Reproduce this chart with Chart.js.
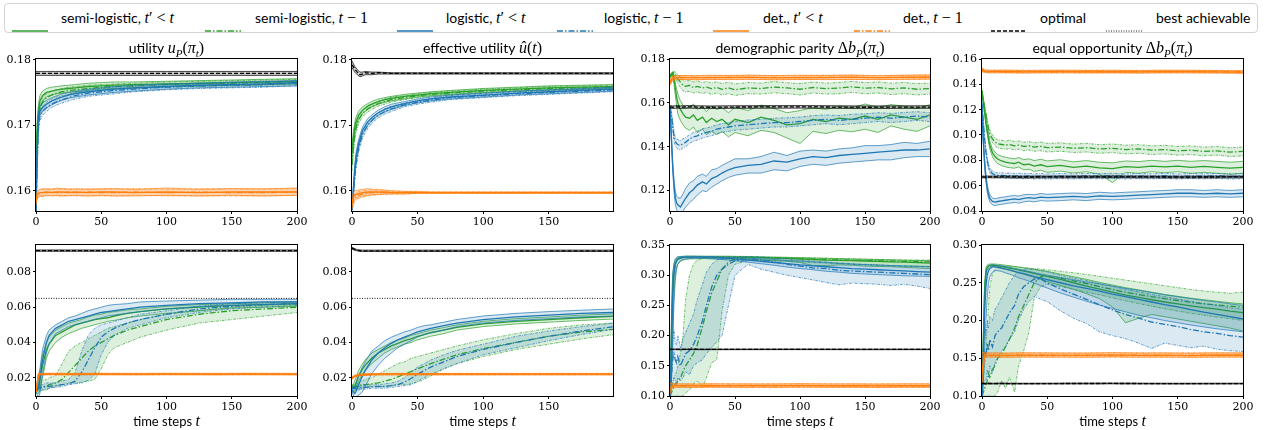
<!DOCTYPE html>
<html><head><meta charset="utf-8">
<script src="https://cdn.jsdelivr.net/npm/chart.js@4.4.0/dist/chart.umd.min.js"></script>
<style>
body{margin:0;width:1266px;height:430px;background:#fff;position:relative;overflow:hidden;font-family:Lato,"DejaVu Sans",sans-serif}
#legend{position:absolute;left:4px;top:3px;width:1254px;height:30px;border:1px solid #d3d3d3;border-radius:4px;box-sizing:border-box}
.item{position:absolute;top:0;height:28px;line-height:28px;font-size:14px;white-space:nowrap;color:#000}
.sw{position:absolute;top:13px}
.m{font-family:"Liberation Serif",serif;font-style:italic;font-size:16px}
.r{font-family:"Liberation Serif",serif;font-size:16px}
canvas{position:absolute}
</style></head><body>
<div id="legend"></div>
<script>
// time grids
const T_SMOOTH = [0,1,2,3,5,8,12,16,20,25,30,40,50,60,75,100,125,150,175,200];
const T_RISE = [0,1,2,3,5,8,10,15,20,25,30,35,40,45,50,55,60,70,80,100,125,150,175,200];
const T_NOISY = [0,1,2,3,4,5,6,8,10,12,15,18,21,25,28,32,36,40,45,50,60,70,80,90,100,110,120,130,140,150,160,170,180,190,200];
const T_FLAT = [0,2,5,10,20,30,45,60,80,100,120,140,160,180,200];
const T_OPT = [0,2,4,6,8,10,15,20,30,50,100,150,200];
const T_BEST = [0,200];

// ticks
const X_TICKS_200 = [0,50,100,150,200];
const X_TICKS_199 = [0,50,100,150];
const Y_TICKS_UTIL = [0.16,0.17,0.18];
const Y_TICKS_DP1 = [0.12,0.14,0.16,0.18];
const Y_TICKS_EO1 = [0.04,0.06,0.08,0.10,0.12,0.14,0.16];
const Y_TICKS_U2 = [0.02,0.04,0.06,0.08];
const Y_TICKS_DP2 = [0.10,0.15,0.20,0.25,0.30,0.35];
const Y_TICKS_EO2 = [0.10,0.15,0.20,0.25,0.30];

// ---- utility u_P (row 1, col 1)
const UTIL_SC_MID = [.1630,.1700,.1725,.1737,.1745,.1750,.1752,.1754,.1755,.1756,.1757,.1759,.1760,.1761,.1762,.1763,.1764,.1765,.1766,.1767];
const UTIL_SC_LO = [.1620,.1690,.1717,.1728,.1737,.1743,.1746,.1748,.1749,.1750,.1751,.1753,.1755,.1756,.1757,.1759,.1760,.1761,.1762,.1763];
const UTIL_SC_HI = [.1640,.1710,.1733,.1745,.1752,.1756,.1758,.1759,.1760,.1761,.1762,.1764,.1765,.1766,.1766,.1767,.1768,.1769,.1770,.1771];
const UTIL_SP_MID = [.1625,.1685,.1712,.1725,.1735,.1742,.1746,.1749,.1751,.1753,.1754,.1756,.1758,.1759,.1760,.1762,.1763,.1764,.1765,.1766];
const UTIL_SP_LO = [.1615,.1675,.1703,.1716,.1727,.1735,.1740,.1743,.1745,.1747,.1749,.1751,.1753,.1755,.1756,.1758,.1759,.1760,.1761,.1762];
const UTIL_SP_HI = [.1635,.1695,.1720,.1733,.1742,.1748,.1752,.1754,.1756,.1758,.1759,.1761,.1762,.1763,.1764,.1766,.1767,.1768,.1769,.1770];
const UTIL_LC_MID = [.1570,.1670,.1715,.1722,.1727,.1732,.1737,.1740,.1743,.1746,.1748,.1751,.1753,.1755,.1757,.1759,.1761,.1762,.1763,.1765];
const UTIL_LC_LO = [.1565,.1660,.1708,.1715,.1721,.1726,.1731,.1735,.1738,.1741,.1743,.1746,.1748,.1750,.1752,.1755,.1757,.1758,.1759,.1760];
const UTIL_LC_HI = [.1580,.1680,.1722,.1729,.1734,.1738,.1742,.1745,.1748,.1750,.1752,.1755,.1757,.1759,.1761,.1763,.1764,.1766,.1767,.1768];
const UTIL_LP_MID = [.1565,.1650,.1700,.1714,.1721,.1727,.1732,.1736,.1739,.1742,.1745,.1749,.1751,.1753,.1755,.1758,.1760,.1761,.1762,.1764];
const UTIL_LP_LO = [.1560,.1640,.1692,.1707,.1715,.1721,.1727,.1731,.1734,.1737,.1740,.1744,.1746,.1748,.1751,.1754,.1756,.1757,.1758,.1760];
const UTIL_LP_HI = [.1575,.1660,.1708,.1721,.1728,.1733,.1737,.1741,.1744,.1747,.1750,.1754,.1756,.1758,.1759,.1762,.1764,.1765,.1766,.1768];
const UTIL_DC_MID = [.1585,.1594,.1596,.1597,.1597,.1598,.1597,.1598,.1598,.1597,.1598,.1597,.1598,.1598,.1597,.1598,.1597,.1598,.1598,.1598];
const UTIL_DC_LO = [.1580,.1589,.1591,.1592,.1592,.1593,.1592,.1593,.1592,.1592,.1593,.1592,.1593,.1592,.1592,.1593,.1592,.1593,.1592,.1593];
const UTIL_DC_HI = [.1590,.1599,.1601,.1602,.1603,.1603,.1602,.1604,.1603,.1602,.1603,.1602,.1603,.1603,.1602,.1604,.1602,.1603,.1603,.1604];
const UTIL_DP_MID = [.1583,.1593,.1595,.1596,.1597,.1597,.1598,.1597,.1597,.1598,.1597,.1598,.1597,.1597,.1598,.1597,.1598,.1597,.1597,.1598];
const UTIL_DP_LO = [.1578,.1588,.1590,.1591,.1591,.1592,.1593,.1592,.1592,.1593,.1592,.1592,.1592,.1592,.1593,.1592,.1592,.1592,.1592,.1593];
const UTIL_DP_HI = [.1588,.1598,.1600,.1601,.1602,.1602,.1603,.1602,.1603,.1603,.1602,.1603,.1602,.1603,.1603,.1602,.1603,.1603,.1602,.1603];
const UTIL_OPT_MID = [.1779,.1779,.1779,.1779,.1779,.1779,.1779,.1779,.1779,.1779,.1779,.1779,.1779];
const UTIL_OPT_LO = [.1776,.1776,.1776,.1776,.1776,.1776,.1776,.1776,.1776,.1776,.1776,.1776,.1776];
const UTIL_OPT_HI = [.1782,.1782,.1782,.1782,.1782,.1782,.1782,.1782,.1782,.1782,.1782,.1782,.1782];

// ---- effective utility (row 1, col 2)
const EFF_SC_MID = [.1660,.1680,.1695,.1705,.1715,.1723,.1729,.1733,.1736,.1739,.1741,.1744,.1746,.1748,.1750,.1753,.1755,.1757,.1758,.1759];
const EFF_SC_LO = [.1650,.1671,.1687,.1698,.1709,.1718,.1724,.1729,.1732,.1735,.1737,.1740,.1743,.1745,.1747,.1750,.1752,.1754,.1755,.1756];
const EFF_SC_HI = [.1670,.1689,.1703,.1712,.1721,.1728,.1733,.1737,.1740,.1742,.1744,.1747,.1749,.1751,.1753,.1756,.1758,.1760,.1761,.1762];
const EFF_SP_MID = [.1640,.1665,.1683,.1695,.1708,.1718,.1725,.1729,.1733,.1736,.1739,.1742,.1745,.1747,.1749,.1752,.1754,.1756,.1757,.1758];
const EFF_SP_LO = [.1630,.1656,.1675,.1688,.1702,.1713,.1720,.1725,.1729,.1732,.1735,.1739,.1742,.1744,.1746,.1749,.1751,.1753,.1754,.1755];
const EFF_SP_HI = [.1650,.1674,.1691,.1702,.1714,.1723,.1730,.1733,.1737,.1740,.1743,.1745,.1748,.1750,.1752,.1755,.1757,.1759,.1760,.1761];
const EFF_LC_MID = [.1575,.1600,.1630,.1650,.1672,.1692,.1705,.1713,.1719,.1724,.1728,.1733,.1737,.1740,.1743,.1746,.1749,.1751,.1753,.1755];
const EFF_LC_LO = [.1570,.1594,.1623,.1643,.1666,.1687,.1700,.1709,.1715,.1720,.1724,.1730,.1734,.1737,.1740,.1743,.1746,.1748,.1750,.1752];
const EFF_LC_HI = [.1580,.1606,.1637,.1657,.1678,.1697,.1710,.1717,.1723,.1728,.1732,.1736,.1740,.1743,.1746,.1749,.1752,.1754,.1756,.1758];
const EFF_LP_MID = [.1570,.1590,.1620,.1640,.1665,.1686,.1700,.1709,.1715,.1721,.1725,.1731,.1735,.1738,.1742,.1745,.1748,.1750,.1752,.1754];
const EFF_LP_LO = [.1565,.1584,.1613,.1633,.1659,.1681,.1695,.1705,.1711,.1717,.1721,.1728,.1732,.1735,.1739,.1742,.1745,.1747,.1749,.1751];
const EFF_LP_HI = [.1575,.1596,.1627,.1647,.1671,.1691,.1705,.1713,.1719,.1725,.1729,.1734,.1738,.1741,.1745,.1748,.1751,.1753,.1755,.1757];
const EFF_DC_MID = [.1582,.1590,.1593,.1594,.1596,.1597,.1598,.1598,.1598,.1598,.1597,.1597,.1597,.1597,.1597,.1597,.1597,.1597,.1597,.1597];
const EFF_DC_LO = [.1575,.1583,.1586,.1588,.1590,.1592,.1593,.1594,.1594,.1595,.1595,.1595,.1596,.1596,.1596,.1596,.1596,.1596,.1596,.1596];
const EFF_DC_HI = [.1590,.1597,.1599,.1600,.1601,.1602,.1603,.1602,.1602,.1601,.1600,.1599,.1599,.1598,.1598,.1598,.1598,.1598,.1598,.1598];
const EFF_DP_MID = [.1578,.1585,.1589,.1591,.1593,.1595,.1596,.1597,.1597,.1597,.1597,.1597,.1597,.1597,.1597,.1597,.1597,.1597,.1597,.1597];
const EFF_DP_LO = [.1572,.1579,.1583,.1585,.1588,.1590,.1592,.1593,.1594,.1594,.1595,.1595,.1596,.1596,.1596,.1596,.1596,.1596,.1596,.1596];
const EFF_DP_HI = [.1585,.1592,.1595,.1597,.1599,.1600,.1601,.1601,.1600,.1600,.1599,.1599,.1598,.1598,.1598,.1598,.1598,.1598,.1598,.1598];
const EFF_OPT_MID = [.1792,.1786,.1781,.1777,.1778,.1780,.1779,.1780,.1779,.1779,.1779,.1779,.1779];
const EFF_OPT_LO = [.1788,.1781,.1777,.1774,.1775,.1777,.1777,.1778,.1778,.1778,.1778,.1778,.1778];
const EFF_OPT_HI = [.1798,.1790,.1785,.1781,.1781,.1782,.1781,.1781,.1780,.1780,.1780,.1780,.1780];

// ---- demographic parity (row 1, col 3)
const DP1_SC_MID = [.172,.1728,.1735,.171,.167,.163,.160,.157,.155,.1535,.153,.1545,.152,.1535,.151,.153,.1515,.1525,.150,.1525,.151,.1535,.152,.150,.1505,.1525,.1515,.153,.1525,.154,.1525,.1545,.1535,.1525,.1545];
const DP1_SC_HI = [.1725,.1735,.1742,.1725,.1695,.1665,.164,.161,.159,.1575,.158,.1595,.157,.1585,.156,.1585,.157,.1578,.1555,.158,.1565,.159,.1575,.1555,.1565,.1578,.157,.1585,.1578,.1595,.158,.1592,.1585,.1575,.1592];
const DP1_SC_LO = [.1715,.172,.1725,.169,.164,.159,.155,.152,.150,.1485,.1475,.149,.1465,.148,.1455,.147,.1455,.147,.1445,.1465,.145,.1475,.1465,.144,.1415,.147,.146,.1475,.1468,.148,.1465,.1495,.148,.147,.1495];
const DP1_SP_MID = [.172,.1728,.1735,.1738,.173,.172,.171,.1695,.168,.1675,.168,.167,.1675,.1668,.1672,.1665,.167,.1662,.1668,.166,.1668,.1665,.1672,.1668,.1662,.167,.1665,.1668,.1673,.1667,.167,.1664,.1668,.1662,.1665];
const DP1_SP_HI = [.1725,.1735,.1742,.1745,.174,.1735,.1728,.1715,.1705,.170,.1702,.1695,.170,.1692,.1698,.169,.1696,.1688,.1694,.1686,.1693,.169,.1697,.1692,.1688,.1695,.169,.1693,.1698,.1692,.1695,.169,.1693,.1688,.169];
const DP1_SP_LO = [.1715,.172,.1728,.173,.172,.1705,.169,.167,.1655,.165,.1652,.1645,.165,.1642,.1648,.1638,.1645,.1636,.1642,.1634,.1642,.164,.1646,.1642,.1636,.1645,.164,.1642,.1648,.1641,.1645,.1638,.1642,.1636,.164];
const DP1_LC_MID = [.158,.145,.132,.123,.117,.1145,.1135,.1125,.1145,.1165,.119,.1205,.1225,.124,.123,.1255,.1265,.128,.1295,.1305,.1315,.132,.1335,.133,.1345,.1355,.135,.136,.1365,.137,.1375,.138,.1385,.1385,.139];
const DP1_LC_HI = [.158,.1465,.134,.1255,.120,.1175,.1168,.1165,.1185,.121,.1235,.1245,.1265,.1275,.1265,.1295,.130,.1315,.133,.1345,.1345,.1355,.1375,.136,.138,.1385,.138,.139,.1395,.1405,.1405,.141,.142,.1415,.1425];
const DP1_LC_LO = [.157,.143,.130,.1205,.114,.1115,.110,.109,.1105,.1125,.1145,.116,.118,.120,.1195,.1215,.123,.1245,.126,.127,.128,.128,.1295,.129,.131,.132,.1315,.1325,.133,.1335,.134,.134,.135,.1355,.1355];
const DP1_LP_MID = [.158,.155,.150,.145,.1425,.1415,.141,.1405,.1415,.142,.1435,.1445,.145,.146,.1465,.147,.148,.1485,.149,.1495,.150,.1505,.151,.151,.1515,.152,.1525,.152,.1525,.153,.1535,.153,.1535,.154,.1535];
const DP1_LP_HI = [.1585,.1565,.152,.147,.1445,.1435,.1432,.1428,.1436,.1442,.1455,.1465,.147,.1482,.1485,.1492,.150,.1505,.151,.1515,.1522,.1525,.153,.1532,.1535,.1542,.1545,.1542,.1548,.155,.1555,.1552,.1556,.156,.1555];
const DP1_LP_LO = [.1575,.1535,.148,.143,.1405,.1395,.139,.1385,.1395,.140,.1415,.1425,.143,.144,.1445,.145,.146,.1465,.147,.1475,.148,.1485,.149,.149,.1495,.150,.1505,.150,.1505,.151,.1515,.151,.1515,.152,.1515];
const DP1_DC_MID = [.169,.1712,.1715,.1716,.1714,.1716,.1715,.1717,.1714,.1716,.1715,.1717,.1715,.1716,.1718];
const DP1_DC_LO = [.168,.1703,.1706,.1707,.1705,.1707,.1706,.1708,.1705,.1707,.1706,.1707,.1706,.1707,.1709];
const DP1_DC_HI = [.170,.1722,.1724,.1725,.1723,.1726,.1724,.1727,.1724,.1726,.1725,.1727,.1724,.1726,.1728];
const DP1_DP_MID = [.1695,.1714,.1716,.1715,.1716,.1715,.1717,.1715,.1716,.1715,.1717,.1716,.1715,.1717,.1716];
const DP1_DP_LO = [.1686,.1705,.1707,.1706,.1707,.1706,.1708,.1706,.1707,.1706,.1708,.1707,.1706,.1708,.1707];
const DP1_DP_HI = [.1704,.1723,.1725,.1724,.1725,.1724,.1726,.1724,.1725,.1724,.1726,.1725,.1724,.1726,.1725];
const DP1_OPT_MID = [.1582,.1580,.1581,.1582,.1580,.1581,.1582,.1581,.1580,.1581,.1582,.1580,.1581];
const DP1_OPT_LO = [.1576,.1574,.1575,.1576,.1574,.1575,.1576,.1575,.1574,.1575,.1576,.1574,.1575];
const DP1_OPT_HI = [.1588,.1586,.1587,.1588,.1586,.1587,.1588,.1587,.1586,.1587,.1588,.1586,.1587];

// ---- equal opportunity (row 1, col 4)
const EO1_SC_MID = [.134,.126,.118,.110,.103,.097,.092,.086,.083,.081,.0795,.0785,.078,.0775,.0785,.0765,.077,.0755,.0765,.075,.076,.0745,.0755,.074,.0735,.075,.0745,.0755,.0748,.0755,.0745,.0752,.0745,.0738,.0745];
const EO1_SC_HI = [.1345,.127,.1195,.112,.105,.0995,.095,.089,.0865,.0845,.0832,.0825,.0818,.0812,.0822,.0805,.0812,.0798,.0808,.0795,.0805,.0788,.0798,.0785,.078,.0795,.079,.080,.0792,.080,.0792,.0798,.0792,.0785,.0792];
const EO1_SC_LO = [.1335,.125,.1165,.108,.101,.0945,.089,.083,.0795,.0775,.0758,.0748,.0742,.0738,.0748,.0725,.073,.0712,.0722,.0705,.0715,.070,.071,.069,.0625,.0705,.0698,.071,.0702,.071,.0698,.0705,.0698,.069,.0698];
const EO1_SP_MID = [.135,.128,.122,.116,.110,.105,.101,.097,.0945,.093,.0925,.092,.0925,.0915,.092,.091,.0915,.0905,.091,.090,.0905,.0895,.090,.089,.0895,.0885,.089,.088,.0885,.0875,.088,.087,.0875,.0865,.087];
const EO1_SP_HI = [.1355,.129,.1235,.118,.1125,.1075,.104,.100,.0975,.0962,.0958,.0952,.0958,.0948,.0953,.0943,.0948,.0938,.0944,.0934,.0938,.0928,.0934,.0924,.0929,.0919,.0924,.0914,.0919,.0909,.0914,.0904,.0909,.0899,.0905];
const EO1_SP_LO = [.1345,.127,.1205,.114,.1075,.1025,.098,.094,.0915,.0898,.0892,.0888,.0892,.0882,.0887,.0877,.0882,.0872,.0876,.0866,.0872,.0862,.0866,.0856,.0861,.0851,.0856,.0846,.0851,.0841,.0846,.0836,.0841,.0831,.0835];
const EO1_LC_MID = [.120,.095,.078,.066,.058,.053,.050,.0475,.047,.0475,.048,.0485,.049,.0495,.049,.050,.0505,.050,.051,.0505,.051,.0515,.051,.052,.0515,.052,.0525,.053,.0535,.054,.054,.0535,.054,.0535,.054];
const EO1_LC_HI = [.121,.097,.081,.069,.061,.056,.0528,.0502,.0497,.0502,.0508,.0512,.0518,.0522,.0518,.0528,.0532,.0528,.0538,.0532,.0538,.0542,.0538,.0548,.0542,.0548,.0552,.0558,.0562,.0568,.0568,.0562,.0568,.0562,.0568];
const EO1_LC_LO = [.119,.093,.075,.063,.055,.050,.0472,.0448,.0443,.0448,.0452,.0458,.0462,.0468,.0462,.0472,.0478,.0472,.0482,.0478,.0482,.0488,.0482,.0492,.0488,.0492,.0498,.0502,.0508,.0512,.0512,.0508,.0512,.0508,.0512];
const EO1_LP_MID = [.125,.110,.097,.087,.080,.075,.072,.0695,.0685,.068,.0682,.0678,.068,.0676,.0679,.0674,.0677,.0673,.0676,.0672,.0676,.0673,.0677,.0674,.0678,.0673,.0676,.0674,.0677,.0673,.0676,.0674,.0677,.0673,.0675];
const EO1_LP_HI = [.126,.112,.099,.089,.082,.077,.074,.0715,.0705,.070,.0702,.0698,.070,.0696,.0699,.0694,.0697,.0693,.0696,.0692,.0696,.0693,.0697,.0694,.0698,.0693,.0696,.0694,.0697,.0693,.0696,.0694,.0697,.0693,.0695];
const EO1_LP_LO = [.124,.108,.095,.085,.078,.073,.070,.0675,.0665,.066,.0662,.0658,.066,.0656,.0659,.0654,.0657,.0653,.0656,.0652,.0656,.0653,.0657,.0654,.0658,.0653,.0656,.0654,.0657,.0653,.0656,.0654,.0657,.0653,.0655];
const EO1_DC_MID = [.152,.1505,.1502,.150,.1503,.1498,.1501,.1502,.1499,.1501,.1498,.1502,.150,.1499,.1497];
const EO1_DC_LO = [.151,.1495,.1492,.149,.1493,.1488,.1491,.1492,.1489,.1491,.1488,.1492,.149,.1489,.1487];
const EO1_DC_HI = [.153,.1515,.1512,.151,.1513,.1508,.1511,.1512,.1509,.1511,.1508,.1512,.151,.1509,.1507];
const EO1_DP_MID = [.151,.1502,.150,.1503,.1499,.1502,.150,.1499,.1502,.150,.1501,.1499,.1501,.150,.1499];
const EO1_DP_LO = [.150,.1492,.149,.1493,.1489,.1492,.149,.1489,.1492,.149,.1491,.1489,.1491,.149,.1489];
const EO1_DP_HI = [.152,.1512,.151,.1513,.1509,.1512,.151,.1509,.1512,.151,.1511,.1509,.1511,.151,.1509];
const EO1_OPT_MID = [.0670,.0668,.0669,.0670,.0668,.0669,.0670,.0669,.0668,.0669,.0670,.0668,.0669];
const EO1_OPT_LO = [.0663,.0661,.0662,.0663,.0661,.0662,.0663,.0662,.0661,.0662,.0663,.0661,.0662];
const EO1_OPT_HI = [.0677,.0675,.0676,.0677,.0675,.0676,.0677,.0676,.0675,.0676,.0677,.0675,.0676];

// ---- utility (row 2, col 1)
const U2_SC_MID = [.013,.013,.014,.018,.027,.036,.039,.044,.046,.048,.050,.051,.052,.053,.0535,.054,.055,.0565,.0575,.059,.060,.061,.0615,.062];
const U2_SC_HI = [.014,.015,.018,.023,.033,.040,.043,.047,.049,.051,.052,.053,.0545,.0555,.056,.057,.0575,.0585,.059,.0605,.0615,.062,.0625,.063];
const U2_SC_LO = [.012,.011,.011,.013,.020,.031,.035,.040,.043,.045,.0465,.048,.049,.050,.051,.052,.0525,.054,.055,.0565,.058,.0595,.060,.0605];
const U2_SP_MID = [.014,.014,.014,.0145,.015,.015,.016,.017,.019,.023,.027,.031,.035,.038,.040,.042,.044,.047,.049,.053,.056,.058,.059,.060];
const U2_SP_HI = [.015,.015,.016,.017,.018,.019,.020,.021,.028,.035,.038,.040,.042,.044,.046,.048,.049,.051,.053,.056,.058,.060,.061,.0615];
const U2_SP_LO = [.013,.012,.012,.012,.013,.013,.014,.015,.016,.017,.017,.0175,.018,.019,.025,.033,.037,.040,.043,.047,.051,.053,.055,.057];
const U2_LC_MID = [.013,.013,.015,.019,.030,.040,.044,.048,.050,.052,.053,.054,.055,.056,.057,.0575,.058,.059,.060,.061,.062,.0625,.063,.063];
const U2_LC_HI = [.014,.015,.020,.025,.036,.044,.047,.050,.052,.054,.055,.0565,.058,.059,.060,.061,.0615,.062,.063,.0635,.064,.0645,.0645,.0645];
const U2_LC_LO = [.012,.010,.009,.011,.022,.034,.039,.045,.047,.049,.050,.051,.052,.053,.054,.055,.0555,.0565,.0575,.059,.0605,.061,.0615,.062];
const U2_LP_MID = [.014,.014,.014,.014,.0145,.015,.015,.0155,.016,.0165,.018,.023,.030,.037,.043,.046,.048,.051,.053,.056,.059,.0605,.0615,.062];
const U2_LP_HI = [.015,.015,.015,.016,.016,.017,.017,.017,.018,.019,.023,.035,.044,.048,.050,.051,.052,.054,.056,.058,.0605,.062,.0625,.063];
const U2_LP_LO = [.013,.013,.013,.013,.013,.0135,.014,.0145,.015,.016,.0165,.017,.0185,.022,.033,.040,.044,.048,.050,.054,.057,.059,.060,.061];
const U2_DC_MID = [.013,.0220,.0220,.0221,.0220,.0220,.0221,.0220,.0220,.0221,.0220,.0220,.0221,.0220,.0220];
const U2_DC_LO = [.012,.0216,.0216,.0217,.0216,.0216,.0217,.0216,.0216,.0217,.0216,.0216,.0217,.0216,.0216];
const U2_DC_HI = [.014,.0224,.0224,.0225,.0224,.0224,.0225,.0224,.0224,.0225,.0224,.0224,.0225,.0224,.0224];
const U2_DP_MID = [.012,.0221,.0220,.0220,.0221,.0220,.0220,.0221,.0220,.0220,.0221,.0220,.0220,.0221,.0220];
const U2_DP_LO = [.0116,.0217,.0216,.0216,.0217,.0216,.0216,.0217,.0216,.0216,.0217,.0216,.0216,.0217,.0216];
const U2_DP_HI = [.0124,.0225,.0224,.0224,.0225,.0224,.0224,.0225,.0224,.0224,.0225,.0224,.0224,.0225,.0224];
const U2_OPT_MID = [.0921,.0921,.0921,.0921,.0921,.0921,.0921,.0921,.0921,.0921,.0921,.0921,.0921];
const U2_OPT_LO = [.0917,.0917,.0917,.0917,.0917,.0917,.0917,.0917,.0917,.0917,.0917,.0917,.0917];
const U2_OPT_HI = [.0925,.0925,.0925,.0925,.0925,.0925,.0925,.0925,.0925,.0925,.0925,.0925,.0925];
const U2_BEST = [.065,.065];

// ---- effective utility (row 2, col 2)
const E2_SC_MID = [.014,.014,.015,.017,.021,.025,.027,.031,.034,.036,.038,.0395,.041,.042,.0435,.0445,.0455,.047,.0485,.0505,.052,.053,.054,.0548];
const E2_SC_HI = [.015,.016,.018,.020,.024,.028,.030,.034,.036,.038,.040,.0415,.0425,.044,.045,.046,.047,.0485,.050,.052,.0535,.0545,.0555,.0562];
const E2_SC_LO = [.013,.012,.012,.014,.018,.022,.024,.028,.031,.034,.036,.0375,.039,.040,.0415,.0425,.0435,.045,.047,.049,.0505,.0515,.0525,.0533];
const E2_SP_MID = [.015,.015,.015,.015,.0155,.016,.016,.0165,.017,.018,.019,.0205,.022,.0235,.025,.0265,.028,.0305,.033,.0365,.040,.0435,.046,.0475];
const E2_SP_HI = [.016,.016,.016,.0165,.017,.018,.019,.020,.022,.024,.026,.028,.029,.031,.032,.033,.034,.036,.038,.0415,.045,.048,.050,.051];
const E2_SP_LO = [.014,.014,.014,.014,.014,.014,.0145,.015,.015,.015,.0155,.016,.016,.0165,.0175,.019,.021,.025,.028,.032,.036,.039,.042,.0445];
const E2_LC_MID = [.013,.012,.011,.012,.016,.021,.024,.030,.034,.037,.0395,.0415,.043,.0445,.046,.047,.048,.0495,.051,.053,.0545,.0555,.0565,.057];
const E2_LC_HI = [.014,.014,.014,.016,.021,.026,.029,.035,.038,.041,.043,.0445,.046,.047,.0485,.0495,.050,.0515,.053,.055,.0565,.0575,.0583,.059];
const E2_LC_LO = [.012,.010,.009,.009,.010,.012,.015,.022,.027,.031,.034,.037,.039,.041,.043,.0445,.0455,.047,.049,.051,.0525,.0535,.0545,.055];
const E2_LP_MID = [.014,.014,.014,.014,.014,.0145,.0145,.0148,.015,.015,.0155,.016,.0175,.0195,.022,.024,.026,.029,.032,.036,.040,.0435,.0465,.049];
const E2_LP_HI = [.015,.015,.015,.015,.015,.0155,.0155,.016,.016,.0165,.017,.018,.020,.023,.026,.028,.030,.033,.0355,.039,.0435,.0465,.049,.051];
const E2_LP_LO = [.013,.013,.013,.013,.013,.0135,.0135,.014,.014,.014,.0145,.015,.0155,.016,.018,.020,.022,.025,.028,.033,.037,.041,.0445,.0475];
const E2_DC_MID = [.0200,.0210,.0215,.0218,.0220,.0220,.0220,.0220,.0220,.0220,.0220,.0220,.0220,.0220,.0220];
const E2_DC_LO = [.0196,.0206,.0211,.0214,.0216,.0216,.0216,.0216,.0216,.0216,.0216,.0216,.0216,.0216,.0216];
const E2_DC_HI = [.0204,.0214,.0219,.0222,.0224,.0224,.0224,.0224,.0224,.0224,.0224,.0224,.0224,.0224,.0224];
const E2_DP_MID = [.0195,.0207,.0213,.0217,.0219,.0220,.0220,.0220,.0220,.0220,.0220,.0220,.0220,.0220,.0220];
const E2_DP_LO = [.0191,.0203,.0209,.0213,.0215,.0216,.0216,.0216,.0216,.0216,.0216,.0216,.0216,.0216,.0216];
const E2_DP_HI = [.0199,.0211,.0217,.0221,.0223,.0224,.0224,.0224,.0224,.0224,.0224,.0224,.0224,.0224,.0224];
const E2_OPT_MID = [.0935,.0928,.0923,.0921,.0920,.0920,.0920,.0920,.0920,.0920,.0920,.0920,.0920];
const E2_OPT_LO = [.0930,.0923,.0919,.0917,.0916,.0916,.0916,.0916,.0916,.0916,.0916,.0916,.0916];
const E2_OPT_HI = [.0940,.0933,.0927,.0925,.0924,.0924,.0924,.0924,.0924,.0924,.0924,.0924,.0924];
const E2_BEST = [.065,.065];

// ---- demographic parity (row 2, col 3)
const DP2_SC_MID = [.10,.18,.27,.305,.318,.323,.326,.328,.329,.3295,.33,.33,.33,.33,.33,.33,.33,.33,.33,.33,.3295,.329,.3285,.328,.327,.326,.325,.3245,.324,.3235,.323,.322,.3215,.321,.320];
const DP2_SC_HI = [.10,.22,.30,.318,.326,.329,.330,.331,.331,.3315,.3315,.3315,.3315,.3315,.3315,.3315,.3315,.3315,.3315,.3312,.331,.3305,.330,.3295,.329,.3285,.328,.3275,.327,.3265,.326,.3255,.325,.3245,.324];
const DP2_SC_LO = [.10,.12,.20,.27,.30,.312,.318,.323,.325,.326,.327,.327,.327,.3275,.3275,.3275,.3275,.327,.327,.3265,.326,.325,.324,.323,.321,.316,.316,.317,.3165,.315,.3145,.314,.313,.312,.311];
const DP2_SP_MID = [.10,.105,.11,.115,.12,.12,.125,.13,.14,.15,.16,.17,.185,.215,.24,.27,.29,.31,.322,.327,.329,.329,.3285,.328,.327,.3265,.326,.3255,.325,.3245,.324,.3235,.323,.3225,.322];
const DP2_SP_HI = [.10,.11,.12,.13,.135,.14,.15,.17,.20,.26,.30,.318,.325,.328,.33,.3305,.331,.331,.331,.3305,.3305,.33,.3295,.3295,.329,.3285,.328,.3275,.327,.3265,.326,.3255,.325,.325,.325];
const DP2_SP_LO = [.10,.10,.10,.10,.10,.10,.10,.10,.10,.105,.11,.12,.125,.115,.13,.155,.16,.24,.30,.318,.324,.325,.324,.3235,.322,.321,.32,.319,.318,.317,.316,.3155,.315,.3145,.314];
const DP2_LC_MID = [.10,.16,.26,.30,.318,.324,.327,.329,.3295,.33,.33,.33,.33,.33,.33,.3295,.329,.3285,.328,.327,.325,.323,.321,.319,.317,.3155,.314,.3125,.311,.310,.309,.308,.307,.306,.305];
const DP2_LC_HI = [.10,.21,.30,.318,.326,.329,.3305,.331,.3312,.3315,.3315,.3315,.3313,.3312,.331,.331,.3305,.33,.3298,.3292,.328,.327,.326,.3245,.3235,.322,.321,.3195,.3185,.3175,.317,.316,.3155,.315,.3145];
const DP2_LC_LO = [.10,.11,.18,.25,.29,.31,.318,.324,.326,.327,.3275,.328,.328,.328,.3275,.327,.3265,.326,.325,.324,.3215,.319,.3165,.3135,.311,.309,.3065,.305,.303,.302,.301,.300,.299,.2985,.298];
const DP2_LP_MID = [.10,.13,.16,.17,.16,.155,.165,.15,.16,.17,.175,.185,.20,.225,.25,.28,.30,.31,.318,.324,.326,.325,.322,.318,.315,.312,.311,.308,.307,.306,.305,.304,.303,.302,.301];
const DP2_LP_HI = [.10,.14,.19,.21,.19,.185,.20,.18,.195,.205,.22,.235,.26,.285,.305,.318,.325,.328,.33,.3305,.331,.33,.3285,.327,.325,.3235,.322,.3205,.319,.318,.317,.316,.315,.3145,.314];
const DP2_LP_LO = [.10,.11,.12,.13,.125,.12,.13,.125,.13,.14,.135,.15,.155,.16,.17,.18,.19,.20,.25,.30,.318,.31,.305,.30,.296,.292,.288,.284,.287,.286,.285,.283,.285,.282,.278];
const DP2_DC_MID = [.110,.1175,.1168,.1172,.1166,.1174,.1169,.1171,.1167,.1175,.1168,.1172,.1166,.1173,.1170];
const DP2_DC_LO = [.103,.1150,.1142,.1146,.1140,.1148,.1143,.1145,.1141,.1149,.1142,.1146,.1140,.1147,.1144];
const DP2_DC_HI = [.122,.1205,.1198,.1202,.1196,.1204,.1199,.1201,.1197,.1205,.1198,.1202,.1196,.1203,.1200];
const DP2_DP_MID = [.112,.1170,.1173,.1167,.1172,.1168,.1174,.1167,.1172,.1169,.1173,.1167,.1172,.1168,.1171];
const DP2_DP_LO = [.105,.1144,.1147,.1141,.1146,.1142,.1148,.1141,.1146,.1143,.1147,.1141,.1146,.1142,.1145];
const DP2_DP_HI = [.121,.1200,.1203,.1197,.1202,.1198,.1204,.1197,.1202,.1199,.1203,.1197,.1202,.1198,.1201];
const DP2_OPT_MID = [.1772,.1771,.1773,.1772,.1771,.1772,.1773,.1772,.1771,.1772,.1773,.1771,.1772];
const DP2_OPT_LO = [.1767,.1766,.1768,.1767,.1766,.1767,.1768,.1767,.1766,.1767,.1768,.1766,.1767];
const DP2_OPT_HI = [.1777,.1776,.1778,.1777,.1776,.1777,.1778,.1777,.1776,.1777,.1778,.1776,.1777];

// ---- equal opportunity (row 2, col 4)
const EO2_SC_MID = [.10,.17,.24,.265,.27,.2725,.273,.2735,.273,.2725,.2715,.2705,.2695,.268,.267,.2655,.264,.2625,.2605,.2585,.2545,.25,.2455,.2415,.2375,.2335,.2305,.2275,.2245,.222,.2195,.217,.215,.2125,.2105];
const EO2_SC_HI = [.10,.18,.25,.27,.2735,.2745,.2748,.275,.2748,.2745,.274,.2732,.2725,.2715,.2708,.2698,.2688,.2678,.2665,.265,.2615,.258,.2545,.2505,.247,.2435,.2405,.2375,.2345,.232,.2295,.2275,.2255,.2235,.222];
const EO2_SC_LO = [.10,.16,.23,.26,.2665,.27,.271,.272,.2712,.2705,.2692,.268,.2665,.2645,.2632,.2612,.2592,.2572,.2545,.2518,.2465,.2415,.2355,.229,.218,.197,.203,.208,.205,.202,.199,.196,.193,.19,.186];
const EO2_SP_MID = [.10,.105,.11,.115,.12,.13,.125,.135,.14,.15,.155,.165,.175,.19,.205,.22,.235,.25,.258,.2585,.256,.2525,.249,.245,.241,.2375,.2345,.2315,.229,.2265,.224,.222,.2205,.219,.2175];
const EO2_SP_HI = [.10,.12,.14,.16,.19,.22,.245,.262,.268,.271,.2722,.2722,.272,.2715,.271,.27,.2695,.2688,.268,.267,.2652,.2632,.261,.2585,.256,.2535,.251,.2485,.246,.2435,.241,.239,.2375,.236,.2375];
const EO2_SP_LO = [.10,.10,.10,.10,.10,.10,.10,.10,.10,.105,.12,.11,.125,.105,.14,.16,.185,.23,.245,.248,.245,.241,.2375,.234,.23,.226,.2225,.219,.2155,.2125,.2095,.207,.2045,.2025,.20];
const EO2_LC_MID = [.10,.15,.21,.245,.26,.266,.269,.271,.271,.2705,.2695,.268,.267,.265,.2635,.262,.260,.258,.256,.254,.250,.246,.2425,.239,.235,.2315,.228,.2245,.221,.218,.2145,.211,.208,.205,.202];
const EO2_LC_HI = [.10,.17,.24,.262,.27,.272,.273,.2735,.2735,.273,.2725,.2715,.2705,.269,.268,.2665,.265,.2635,.2615,.26,.257,.254,.251,.2485,.2455,.2425,.24,.237,.234,.2315,.229,.2265,.2245,.222,.22];
const EO2_LC_LO = [.10,.12,.16,.20,.23,.25,.258,.264,.266,.266,.265,.263,.2615,.259,.2565,.2545,.252,.2495,.246,.243,.2365,.231,.2255,.2205,.216,.2115,.207,.2035,.20,.197,.194,.1915,.189,.187,.185];
const EO2_LP_MID = [.10,.13,.16,.15,.17,.16,.175,.165,.18,.185,.19,.20,.21,.22,.235,.245,.25,.255,.255,.25,.242,.235,.228,.221,.214,.208,.203,.198,.195,.192,.188,.185,.183,.18,.178];
const EO2_LP_HI = [.10,.15,.19,.18,.20,.19,.205,.20,.215,.22,.23,.24,.25,.26,.265,.268,.268,.2675,.266,.2645,.26,.2565,.253,.249,.2455,.2415,.238,.2345,.2315,.2285,.2255,.2225,.22,.217,.215];
const EO2_LP_LO = [.10,.11,.12,.12,.135,.125,.14,.13,.145,.15,.16,.165,.175,.185,.20,.215,.225,.232,.228,.225,.213,.203,.196,.185,.18,.176,.17,.163,.17,.167,.164,.166,.162,.16,.159];
const EO2_DC_MID = [.130,.1545,.1538,.1542,.1536,.1544,.1539,.1541,.1537,.1545,.1538,.1542,.1536,.1543,.1540];
const EO2_DC_LO = [.115,.1520,.1513,.1517,.1511,.1519,.1514,.1516,.1512,.1520,.1513,.1517,.1511,.1518,.1515];
const EO2_DC_HI = [.158,.1575,.1568,.1572,.1566,.1574,.1569,.1571,.1567,.1575,.1568,.1572,.1566,.1573,.1570];
const EO2_DP_MID = [.135,.1540,.1543,.1537,.1542,.1538,.1544,.1537,.1542,.1539,.1543,.1537,.1542,.1538,.1541];
const EO2_DP_LO = [.120,.1515,.1518,.1512,.1517,.1513,.1519,.1512,.1517,.1514,.1518,.1512,.1517,.1513,.1516];
const EO2_DP_HI = [.157,.1570,.1573,.1567,.1572,.1568,.1574,.1567,.1572,.1569,.1573,.1567,.1572,.1568,.1571];
const EO2_OPT_MID = [.1166,.1164,.1165,.1166,.1164,.1165,.1166,.1165,.1164,.1165,.1166,.1164,.1165];
const EO2_OPT_LO = [.1161,.1159,.1160,.1161,.1159,.1160,.1161,.1160,.1159,.1160,.1161,.1159,.1160];
const EO2_OPT_HI = [.1171,.1169,.1170,.1171,.1169,.1170,.1171,.1170,.1169,.1170,.1171,.1169,.1170];

// ---------------------------------------------------------------
const GREEN = '#2ca02c', BLUE = '#1f77b4', ORANGE = '#ff7f0e';
const DASHDOT = [6, 2, 1.5, 2];
const EDGE_DD = [2.5, 1.2, 0.8, 1.2];
const SANS = 'Lato, "DejaVu Sans", sans-serif';
const SERIF = '"Liberation Serif", serif';

const STYLE = {
  SC: {color: GREEN, fill: 'rgba(44,160,44,0.16)', dash: [], ed: []},
  SP: {color: GREEN, fill: 'rgba(44,160,44,0.16)', dash: DASHDOT, ed: EDGE_DD},
  LC: {color: BLUE, fill: 'rgba(31,119,180,0.16)', dash: [], ed: []},
  LP: {color: BLUE, fill: 'rgba(31,119,180,0.16)', dash: DASHDOT, ed: EDGE_DD},
  DC: {color: ORANGE, fill: 'rgba(255,127,14,0.18)', dash: [], ed: []},
  DP: {color: ORANGE, fill: 'rgba(255,127,14,0.18)', dash: DASHDOT, ed: EDGE_DD},
  OPT: {color: '#000', fill: 'rgba(0,0,0,0.2)', dash: [4, 2], ed: []},
  BEST: {color: '#000', fill: null, dash: [1, 1.5], ed: []}
};

function grp(k, t, lo, mid, hi) { return {k, t, lo, mid, hi}; }

function titleSegs(words, math) {
  return [{s: words, f: '14px ' + SANS}].concat(math);
}
const MI = s => ({s, f: 'italic 16px ' + SERIF});
const MR = s => ({s, f: '16px ' + SERIF});
const SUB = s => ({s, f: 'italic 11px ' + SERIF, dy: 3.5});
const BP_PI = [MR('Δ'), MI('b'), SUB('P'), MR('('), MI('π'), SUB('t'), MR(')')];

const PANELS = [
  {x0: 36, x1: 297, y0: 59, y1: 211, xMax: 200, yMin: .1569, yMax: .1801, xt: X_TICKS_200, yt: Y_TICKS_UTIL,
   title: titleSegs('utility ', [MI('u'), SUB('P'), MR('('), MI('π'), SUB('t'), MR(')')]),
   groups: [grp('SC', T_SMOOTH, UTIL_SC_LO, UTIL_SC_MID, UTIL_SC_HI), grp('SP', T_SMOOTH, UTIL_SP_LO, UTIL_SP_MID, UTIL_SP_HI),
            grp('LC', T_SMOOTH, UTIL_LC_LO, UTIL_LC_MID, UTIL_LC_HI), grp('LP', T_SMOOTH, UTIL_LP_LO, UTIL_LP_MID, UTIL_LP_HI),
            grp('DC', T_SMOOTH, UTIL_DC_LO, UTIL_DC_MID, UTIL_DC_HI), grp('DP', T_SMOOTH, UTIL_DP_LO, UTIL_DP_MID, UTIL_DP_HI),
            grp('OPT', T_OPT, UTIL_OPT_LO, UTIL_OPT_MID, UTIL_OPT_HI)]},
  {x0: 352, x1: 613, y0: 59, y1: 211, xMax: 199, yMin: .1569, yMax: .1801, xt: X_TICKS_199, yt: Y_TICKS_UTIL,
   title: titleSegs('effective utility ', [MI('û'), MR('('), MI('t'), MR(')')]),
   groups: [grp('SC', T_SMOOTH, EFF_SC_LO, EFF_SC_MID, EFF_SC_HI), grp('SP', T_SMOOTH, EFF_SP_LO, EFF_SP_MID, EFF_SP_HI),
            grp('LC', T_SMOOTH, EFF_LC_LO, EFF_LC_MID, EFF_LC_HI), grp('LP', T_SMOOTH, EFF_LP_LO, EFF_LP_MID, EFF_LP_HI),
            grp('DC', T_SMOOTH, EFF_DC_LO, EFF_DC_MID, EFF_DC_HI), grp('DP', T_SMOOTH, EFF_DP_LO, EFF_DP_MID, EFF_DP_HI),
            grp('OPT', T_OPT, EFF_OPT_LO, EFF_OPT_MID, EFF_OPT_HI)]},
  {x0: 670, x1: 930, y0: 59, y1: 211, xMax: 200, yMin: .1107, yMax: .18, xt: X_TICKS_200, yt: Y_TICKS_DP1,
   title: titleSegs('demographic parity ', BP_PI),
   groups: [grp('SC', T_NOISY, DP1_SC_LO, DP1_SC_MID, DP1_SC_HI), grp('SP', T_NOISY, DP1_SP_LO, DP1_SP_MID, DP1_SP_HI),
            grp('LC', T_NOISY, DP1_LC_LO, DP1_LC_MID, DP1_LC_HI), grp('LP', T_NOISY, DP1_LP_LO, DP1_LP_MID, DP1_LP_HI),
            grp('DC', T_FLAT, DP1_DC_LO, DP1_DC_MID, DP1_DC_HI), grp('DP', T_FLAT, DP1_DP_LO, DP1_DP_MID, DP1_DP_HI),
            grp('OPT', T_OPT, DP1_OPT_LO, DP1_OPT_MID, DP1_OPT_HI)]},
  {x0: 982, x1: 1243, y0: 59, y1: 211, xMax: 200, yMin: .04, yMax: .16, xt: X_TICKS_200, yt: Y_TICKS_EO1,
   title: titleSegs('equal opportunity ', BP_PI),
   groups: [grp('SC', T_NOISY, EO1_SC_LO, EO1_SC_MID, EO1_SC_HI), grp('SP', T_NOISY, EO1_SP_LO, EO1_SP_MID, EO1_SP_HI),
            grp('LC', T_NOISY, EO1_LC_LO, EO1_LC_MID, EO1_LC_HI), grp('LP', T_NOISY, EO1_LP_LO, EO1_LP_MID, EO1_LP_HI),
            grp('DC', T_FLAT, EO1_DC_LO, EO1_DC_MID, EO1_DC_HI), grp('DP', T_FLAT, EO1_DP_LO, EO1_DP_MID, EO1_DP_HI),
            grp('OPT', T_OPT, EO1_OPT_LO, EO1_OPT_MID, EO1_OPT_HI)]},
  {x0: 36, x1: 297, y0: 245, y1: 396, xMax: 200, yMin: .0096, yMax: .0953, xt: X_TICKS_200, yt: Y_TICKS_U2, xlabel: true,
   groups: [grp('SC', T_RISE, U2_SC_LO, U2_SC_MID, U2_SC_HI), grp('SP', T_RISE, U2_SP_LO, U2_SP_MID, U2_SP_HI),
            grp('LC', T_RISE, U2_LC_LO, U2_LC_MID, U2_LC_HI), grp('LP', T_RISE, U2_LP_LO, U2_LP_MID, U2_LP_HI),
            grp('DC', T_FLAT, U2_DC_LO, U2_DC_MID, U2_DC_HI), grp('DP', T_FLAT, U2_DP_LO, U2_DP_MID, U2_DP_HI),
            grp('OPT', T_OPT, U2_OPT_LO, U2_OPT_MID, U2_OPT_HI), grp('BEST', T_BEST, null, U2_BEST, null)]},
  {x0: 352, x1: 613, y0: 245, y1: 396, xMax: 199, yMin: .0096, yMax: .0953, xt: X_TICKS_199, yt: Y_TICKS_U2, xlabel: true,
   groups: [grp('SC', T_RISE, E2_SC_LO, E2_SC_MID, E2_SC_HI), grp('SP', T_RISE, E2_SP_LO, E2_SP_MID, E2_SP_HI),
            grp('LC', T_RISE, E2_LC_LO, E2_LC_MID, E2_LC_HI), grp('LP', T_RISE, E2_LP_LO, E2_LP_MID, E2_LP_HI),
            grp('DC', T_FLAT, E2_DC_LO, E2_DC_MID, E2_DC_HI), grp('DP', T_FLAT, E2_DP_LO, E2_DP_MID, E2_DP_HI),
            grp('OPT', T_OPT, E2_OPT_LO, E2_OPT_MID, E2_OPT_HI), grp('BEST', T_BEST, null, E2_BEST, null)]},
  {x0: 670, x1: 930, y0: 245, y1: 396, xMax: 200, yMin: .10, yMax: .35, xt: X_TICKS_200, yt: Y_TICKS_DP2, xlabel: true,
   groups: [grp('SC', T_NOISY, DP2_SC_LO, DP2_SC_MID, DP2_SC_HI), grp('SP', T_NOISY, DP2_SP_LO, DP2_SP_MID, DP2_SP_HI),
            grp('LC', T_NOISY, DP2_LC_LO, DP2_LC_MID, DP2_LC_HI), grp('LP', T_NOISY, DP2_LP_LO, DP2_LP_MID, DP2_LP_HI),
            grp('DC', T_FLAT, DP2_DC_LO, DP2_DC_MID, DP2_DC_HI), grp('DP', T_FLAT, DP2_DP_LO, DP2_DP_MID, DP2_DP_HI),
            grp('OPT', T_OPT, DP2_OPT_LO, DP2_OPT_MID, DP2_OPT_HI)]},
  {x0: 982, x1: 1243, y0: 245, y1: 396, xMax: 200, yMin: .10, yMax: .30, xt: X_TICKS_200, yt: Y_TICKS_EO2, xlabel: true,
   groups: [grp('SC', T_NOISY, EO2_SC_LO, EO2_SC_MID, EO2_SC_HI), grp('SP', T_NOISY, EO2_SP_LO, EO2_SP_MID, EO2_SP_HI),
            grp('LC', T_NOISY, EO2_LC_LO, EO2_LC_MID, EO2_LC_HI), grp('LP', T_NOISY, EO2_LP_LO, EO2_LP_MID, EO2_LP_HI),
            grp('DC', T_FLAT, EO2_DC_LO, EO2_DC_MID, EO2_DC_HI), grp('DP', T_FLAT, EO2_DP_LO, EO2_DP_MID, EO2_DP_HI),
            grp('OPT', T_OPT, EO2_OPT_LO, EO2_OPT_MID, EO2_OPT_HI)]}
];

const XLABEL = [{s: 'time steps ', f: '13px ' + SANS}, MI('t')];

function xy(t, v) {
  if (v.length !== t.length) throw new Error('length mismatch ' + v.length + ' vs ' + t.length);
  return t.map((x, i) => ({x: x, y: v[i]}));
}

function drawRich(ctx, segs, cx, y) {
  let total = 0;
  segs.forEach(sg => { ctx.font = sg.f; total += ctx.measureText(sg.s).width; });
  let x = cx - total / 2;
  ctx.save();
  ctx.fillStyle = '#000';
  ctx.textBaseline = 'alphabetic';
  ctx.textAlign = 'left';
  segs.forEach(sg => {
    ctx.font = sg.f;
    ctx.fillText(sg.s, x, y + (sg.dy || 0));
    x += ctx.measureText(sg.s).width;
  });
  ctx.restore();
}

const framePlugin = {
  id: 'frame',
  afterDraw(chart) {
    const a = chart.chartArea, ctx = chart.ctx, p = chart.options.panel;
    ctx.save();
    ctx.strokeStyle = '#000';
    ctx.lineWidth = 1;
    ctx.strokeRect(a.left - 0.5, a.top - 0.5, a.right - a.left + 1, a.bottom - a.top + 1);
    ctx.restore();
    if (p.title) drawRich(ctx, p.title, (a.left + a.right) / 2, a.top - 6);
    if (p.xlabel) drawRich(ctx, XLABEL, (a.left + a.right) / 2, a.bottom + 30);
  }
};

function buildDatasets(groups) {
  const sets = [];
  groups.forEach((g, gi) => {
    const st = STYLE[g.k];
    const ord = -gi * 2;
    if (g.lo) {
      const base = sets.length;
      sets.push({data: xy(g.t, g.lo), borderColor: st.color, borderWidth: 0.7, borderDash: st.ed, fill: false, order: ord});
      sets.push({data: xy(g.t, g.hi), borderColor: st.color, borderWidth: 0.7, borderDash: st.ed, fill: base, backgroundColor: st.fill, order: ord});
    }
    sets.push({data: xy(g.t, g.mid), borderColor: st.color, borderWidth: g.k === 'BEST' ? 0.9 : 1.3, borderDash: st.dash, fill: false, order: ord - 1});
  });
  return sets;
}

const TICK_FONT = {family: '"DejaVu Serif", serif', size: 11};

PANELS.forEach(p => {
  const xh = p.xlabel ? 36 : 22;
  const W = (p.x1 - p.x0) + 44 + 18;
  const H = (p.y1 - p.y0) + 30 + xh;
  const cv = document.createElement('canvas');
  cv.width = W; cv.height = H;
  cv.style.left = (p.x0 - 44) + 'px';
  cv.style.top = (p.y0 - 30) + 'px';
  cv.style.width = W + 'px';
  cv.style.height = H + 'px';
  document.body.appendChild(cv);
  new Chart(cv, {
    type: 'line',
    data: {datasets: buildDatasets(p.groups)},
    options: {
      panel: p,
      responsive: false,
      animation: false,
      events: [],
      devicePixelRatio: 1,
      layout: {padding: {left: 0, top: 30, right: 18, bottom: 0}},
      elements: {point: {radius: 0}, line: {tension: 0}},
      plugins: {legend: {display: false}, tooltip: {enabled: false}, title: {display: false}},
      scales: {
        x: {
          type: 'linear', min: 0, max: p.xMax,
          afterBuildTicks: s => { s.ticks = p.xt.map(v => ({value: v})); },
          afterFit: s => { s.height = xh; },
          grid: {display: true, drawOnChartArea: false, drawTicks: true, tickLength: 3, color: '#000'},
          border: {display: false},
          ticks: {font: TICK_FONT, color: '#000', padding: 2, maxRotation: 0, autoSkip: false, callback: v => String(v)}
        },
        y: {
          type: 'linear', min: p.yMin, max: p.yMax,
          afterBuildTicks: s => { s.ticks = p.yt.map(v => ({value: v})); },
          afterFit: s => { s.width = 44; },
          grid: {display: true, drawOnChartArea: false, drawTicks: true, tickLength: 3, color: '#000'},
          border: {display: false},
          ticks: {font: TICK_FONT, color: '#000', padding: 2, autoSkip: false, callback: v => v.toFixed(2)}
        }
      }
    },
    plugins: [framePlugin]
  });
});

// legend
const LEGEND_ITEMS = [
  {k: 'SC', html: 'semi-logistic, <span class="m">t</span><span class="r">′ &lt; </span><span class="m">t</span>'},
  {k: 'SP', html: 'semi-logistic, <span class="m">t</span><span class="r"> − 1</span>'},
  {k: 'LC', html: 'logistic, <span class="m">t</span><span class="r">′ &lt; </span><span class="m">t</span>'},
  {k: 'LP', html: 'logistic, <span class="m">t</span><span class="r"> − 1</span>'},
  {k: 'DC', html: 'det., <span class="m">t</span><span class="r">′ &lt; </span><span class="m">t</span>'},
  {k: 'DP', html: 'det., <span class="m">t</span><span class="r"> − 1</span>'},
  {k: 'OPT', html: 'optimal'},
  {k: 'BEST', html: 'best achievable'}
];
const LEG_SWATCH_X = [7, 200, 392, 552, 708, 849, 986, 1101];
const LEG_TEXT_X = [56, 250, 441, 599, 758, 898, 1035, 1151];
const leg = document.getElementById('legend');
LEGEND_ITEMS.forEach((it, i) => {
  const st = STYLE[it.k];
  const dash = st.dash.length ? st.dash.join(',') : 'none';
  const w = it.k === 'BEST' ? 0.9 : 1.6;
  const sw = document.createElement('div');
  sw.className = 'sw';
  sw.style.left = LEG_SWATCH_X[i] + 'px';
  sw.innerHTML = `<svg width="36" height="4"><line x1="0" y1="2" x2="36" y2="2" stroke="${st.color}" stroke-width="${w}" stroke-dasharray="${dash}"/></svg>`;
  leg.appendChild(sw);
  const tx = document.createElement('div');
  tx.className = 'item';
  tx.style.left = LEG_TEXT_X[i] + 'px';
  tx.innerHTML = it.html;
  leg.appendChild(tx);
});
</script>
</body></html>
